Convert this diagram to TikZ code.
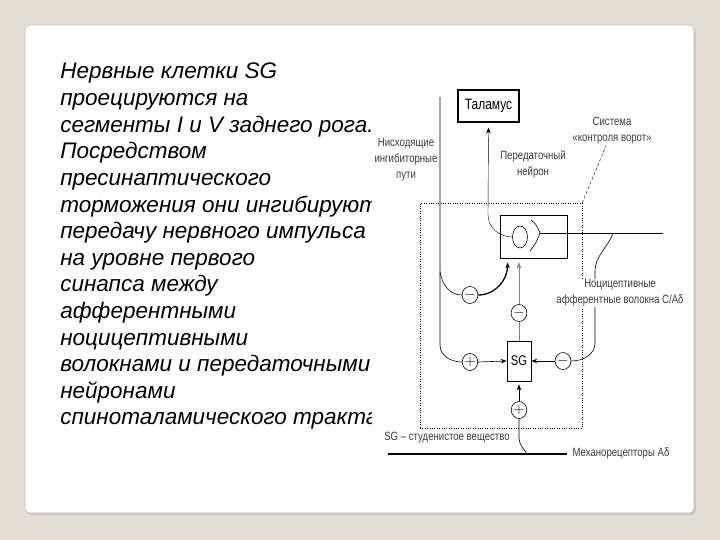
\documentclass[tikz,border=0pt]{standalone}
\usepackage{fontspec}
\setmainfont{Liberation Sans}
\newfontfamily\narrowfont[FakeStretch=0.8]{Liberation Sans}
\usetikzlibrary{calc,arrows.meta,positioning,shapes.geometric}
\definecolor{slidebg}{HTML}{E2DED6}
\definecolor{cardedge}{HTML}{C4C1BA}
\definecolor{inkgray}{HTML}{3C3C3C}
\tikzset{
  ar/.style={-{Stealth[length=6pt,width=4.5pt]},semithick},
  sign/.style={draw,ellipse,minimum width=14pt,minimum height=17pt,inner sep=0pt,font=\fontsize{14}{14}\selectfont},
  lbl/.style={font=\narrowfont\fontsize{12}{16}\selectfont,text=inkgray,align=center,inner sep=1pt},
  slidetext/.style={anchor=base west,inner sep=0pt,font=\fontsize{22.5}{26}\selectfont\itshape}
}
\begin{document}
\begin{tikzpicture}[x=1pt,y=-1pt,semithick]
% slide and card
\fill[slidebg] (0,0) rectangle (720,540);
\useasboundingbox (0,0) rectangle (720,540);
\fill[black!22,rounded corners=5pt] (27,27) rectangle (696,515);
\draw[cardedge,fill=white,rounded corners=5pt] (25,25) rectangle (694,513);

% left text, cut at the diagram
\begin{scope}
\clip (0,0) rectangle (371,540);
\foreach \ln [count=\i] in {Нервные клетки SG,проецируются на,сегменты I и V заднего рога.,Посредством,пресинаптического,торможения они ингибируют,передачу нервного импульса,на уровне первого,синапса между,афферентными,ноцицептивными,волокнами и передаточными,нейронами,спиноталамического тракта}
  \node[slidetext] (txt\i) at (60,{79+26.6*(\i-1)}) {\ln};
\end{scope}

% boxes
\node[draw,dotted,thin,minimum width=162pt,minimum height=225pt,inner sep=0pt] (gatebox) at (501,315.5) {};
\node[draw,line width=1.1pt,minimum width=61pt,minimum height=32pt,font=\narrowfont\fontsize{15}{15}\selectfont] (thal) at (488.5,106) {Таламус};
\node[draw,line width=0.8pt,minimum width=67pt,minimum height=43pt] (relay) at (533.5,236.5) {};
\node[draw,ellipse,minimum width=15pt,minimum height=22pt,inner sep=0pt] (soma) at (520,237) {};
\node[draw,minimum width=24pt,minimum height=40pt,inner sep=0pt,font=\narrowfont\fontsize{14}{14}\selectfont] (sg) at (519,361) {SG};

% signs
\node[sign] (m1) at (470,295) {$-$};
\node[sign] (m2) at (519,313) {$-$};
\node[sign] (p1) at (470,362) {$+$};
\node[sign] (m3) at (563,361) {$-$};
\node[sign] (p2) at (519,410) {$+$};

% labels
\node[lbl] (desc) at (406,160) {Нисходящие\\ингибиторные\\пути};
\node[lbl] (gate) at (612,131) {Система\\«контроля ворот»};
\node[lbl] (relayl) at (533,164) {Передаточный\\нейрон};
\node[lbl] (sgnote) at (447,438) {SG – студенистое вещество};
\node[lbl] (mech) at (621,453) {Механорецепторы Aδ};

% free ends
\coordinate (desctop) at (440,97);
\coordinate (syn) at (540,233);
\coordinate (fibR) at (663,233);
\coordinate (branch) at (613,233);
\coordinate (mechL) at (388,454);
\coordinate (mechR) at (567,454);
\coordinate (mechjoin) at (527,454);

% synapse and afferent fibre
\draw (531,220) .. controls (536,224) .. (syn) .. controls (536,243) .. (530,251);
\draw (syn) -- (fibR);
\draw (branch) to[out=-110,in=90] (595,272) -- (595,343) to[out=-90,in=0] (m3.east);
\node[lbl,fill=white] (noci) at (620,293) {Ноцицептивные\\афферентные волокна C/Aδ};

% relay neuron to thalamus
\draw[ar,thin] (soma.west) to[out=180,in=-90] (488,215) -- ([yshift=-5pt]thal.south);
\draw[thin,densely dashed] (gatebox.north east) -- ([xshift=-6pt]gate.south);

% descending pathways
\draw (desctop) -- (440,345) to[out=-90,in=180] (p1.west);
\draw (440,272) to[out=-80,in=180] (m1.west);
\draw[ar,line width=1.3pt] (m1.east) to[out=0,in=-90] ($(relay.south west)+(8,4)$);
\draw[ar] (p1.east) -- (sg.west);
\draw[ar] (m3.west) -- (sg.east);
\draw[gray,thin] (sg.north) -- (m2.south);
\draw[ar,gray,thin] (m2.north) -- ($(m2 |- relay.south)+(0,4)$);

% mechanoreceptors
\draw[line width=2.4pt] (mechL) -- (mechR);
\draw[ar,shorten >=3pt] (p2.north) -- (sg.south);
\draw (p2.south) -- (519,438) to[out=-90,in=120] (mechjoin);
\end{tikzpicture}
\end{document}
